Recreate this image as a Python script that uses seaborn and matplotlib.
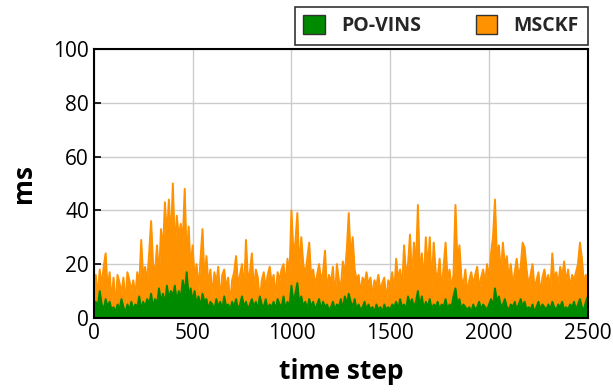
import numpy as np
import pandas as pd
import matplotlib
matplotlib.use("Agg")
import matplotlib.pyplot as plt
import seaborn as sns
from matplotlib.patches import Patch

# processing time per step (ms), sampled every 10 time steps
step_interval = 10
msckf_ms = [
    5, 16, 8, 18, 12, 19, 24, 10, 17, 6,
    15, 4, 16, 13, 9, 15, 5, 17, 14, 10,
    14, 8, 17, 12, 29, 15, 19, 13, 24, 36,
    20, 17, 27, 15, 33, 25, 43, 30, 44, 28,
    50, 26, 38, 30, 35, 28, 48, 22, 34, 18,
    27, 15, 20, 10, 22, 33, 14, 23, 12, 18,
    8, 17, 13, 19, 6, 16, 18, 11, 15, 5,
    14, 17, 23, 12, 16, 20, 9, 29, 14, 17,
    24, 10, 18, 15, 6, 14, 17, 11, 16, 19,
    13, 16, 8, 17, 14, 18, 20, 12, 22, 15,
    40, 24, 28, 39, 18, 30, 20, 16, 22, 28,
    15, 18, 12, 16, 20, 14, 17, 25, 10, 16,
    13, 19, 7, 20, 14, 11, 21, 16, 25, 39,
    22, 30, 18, 14, 16, 9, 15, 13, 17, 12,
    15, 8, 14, 12, 16, 10, 13, 15, 6, 14,
    12, 17, 9, 22, 14, 18, 11, 27, 16, 20,
    31, 14, 28, 19, 42, 16, 24, 13, 30, 18,
    30, 12, 28, 17, 15, 22, 10, 19, 28, 14,
    18, 11, 16, 42, 20, 27, 15, 12, 18, 9,
    14, 17, 12, 16, 19, 11, 15, 18, 13, 20,
    15, 24, 30, 44, 22, 27, 16, 28, 19, 23,
    14, 20, 12, 17, 22, 15, 19, 28, 26, 18,
    12, 16, 20, 11, 14, 17, 9, 15, 18, 13,
    16, 10, 24, 14, 17, 12, 19, 15, 21, 13,
    18, 11, 16, 14, 17, 20, 28, 22, 13, 16,
    10,
]
povins_ms = [
    3, 6, 4, 10, 5, 3, 7, 4, 6, 3,
    4, 2, 5, 3, 7, 4, 2, 5, 3, 6,
    3, 5, 4, 8, 3, 6, 4, 7, 5, 9,
    4, 7, 5, 11, 6, 9, 5, 12, 7, 10,
    8, 12, 6, 10, 7, 14, 9, 17, 8, 11,
    6, 10, 5, 8, 4, 9, 6, 7, 3, 6,
    5, 3, 7, 4, 6, 3, 8, 4, 5, 3,
    6, 4, 7, 3, 5, 8, 4, 6, 3, 5,
    7, 4, 6, 3, 8, 5, 4, 7, 3, 5,
    4, 6, 3, 7, 5, 4, 8, 3, 6, 4,
    12, 6, 9, 13, 5, 8, 4, 6, 3, 7,
    4, 6, 3, 5, 7, 3, 6, 4, 5, 3,
    4, 6, 3, 5, 4, 7, 3, 8, 5, 9,
    6, 4, 7, 3, 5, 3, 4, 6, 3, 5,
    3, 4, 2, 5, 3, 4, 2, 5, 3, 4,
    3, 5, 4, 6, 3, 7, 4, 5, 3, 8,
    5, 7, 4, 6, 10, 4, 8, 3, 6, 4,
    7, 3, 5, 4, 6, 3, 5, 4, 7, 3,
    5, 4, 8, 11, 5, 7, 3, 5, 4, 3,
    4, 2, 5, 3, 4, 6, 3, 5, 4, 3,
    5, 7, 4, 11, 6, 8, 4, 5, 7, 4,
    3, 5, 4, 6, 3, 5, 7, 4, 6, 3,
    4, 3, 5, 2, 4, 6, 3, 5, 4, 3,
    5, 3, 6, 4, 3, 5, 4, 6, 3, 4,
    3, 5, 4, 6, 3, 5, 7, 4, 3, 6,
    8,
]
series_names = ["PO-VINS", "MSCKF"]
series_colors = ["#008a00", "#ff9200"]

time_step = np.arange(len(msckf_ms)) * step_interval
df = pd.DataFrame({"time step": time_step, "MSCKF": msckf_ms, "PO-VINS": povins_ms})

sns.set_style("whitegrid")
plt.rcParams["font.family"] = ["Open Sans", "DejaVu Sans"]

fig = plt.figure(figsize=(6.13, 3.92), dpi=100)
ax = fig.add_axes([0.153, 0.189, 0.806, 0.686])

# dense spiky traces: line plus the area under it
for name, c in [("MSCKF", series_colors[1]), ("PO-VINS", series_colors[0])]:
    sns.lineplot(x="time step", y=name, data=df, color=c, lw=1.4, ax=ax)
    ax.fill_between(df["time step"], 0, df[name], color=c, lw=0)

ax.set_xlim(0, 2500)
ax.set_ylim(0, 100)
ax.set_xticks([0, 500, 1000, 1500, 2000, 2500])
ax.set_yticks([0, 20, 40, 60, 80, 100])
ax.grid(True, color="#cccccc", lw=1)
ax.set_axisbelow(True)
ax.tick_params(direction="in", labelsize=15, length=5, width=1.2, color="black",
               labelcolor="black", bottom=True, left=True)
for sp in ax.spines.values():
    sp.set_color("black")
    sp.set_linewidth(1.5)

ax.set_xlabel("time step", fontsize=19, fontweight="bold", labelpad=10, color="black")
ax.set_ylabel("ms", fontsize=19, fontweight="bold", labelpad=12, color="black")

handles = [Patch(facecolor=c, edgecolor="#333333", lw=1) for c in series_colors]
leg = ax.legend(handles, series_names, loc="lower right", bbox_to_anchor=(1.0, 1.015),
                ncol=2, frameon=True, fancybox=False, edgecolor="black",
                prop={"weight": "bold", "size": 14}, handlelength=1.1, handleheight=1.1,
                columnspacing=2.8, borderpad=0.45, borderaxespad=0, handletextpad=0.85)
leg.get_frame().set_linewidth(1.2)

fig.savefig("out.png", dpi=100)
